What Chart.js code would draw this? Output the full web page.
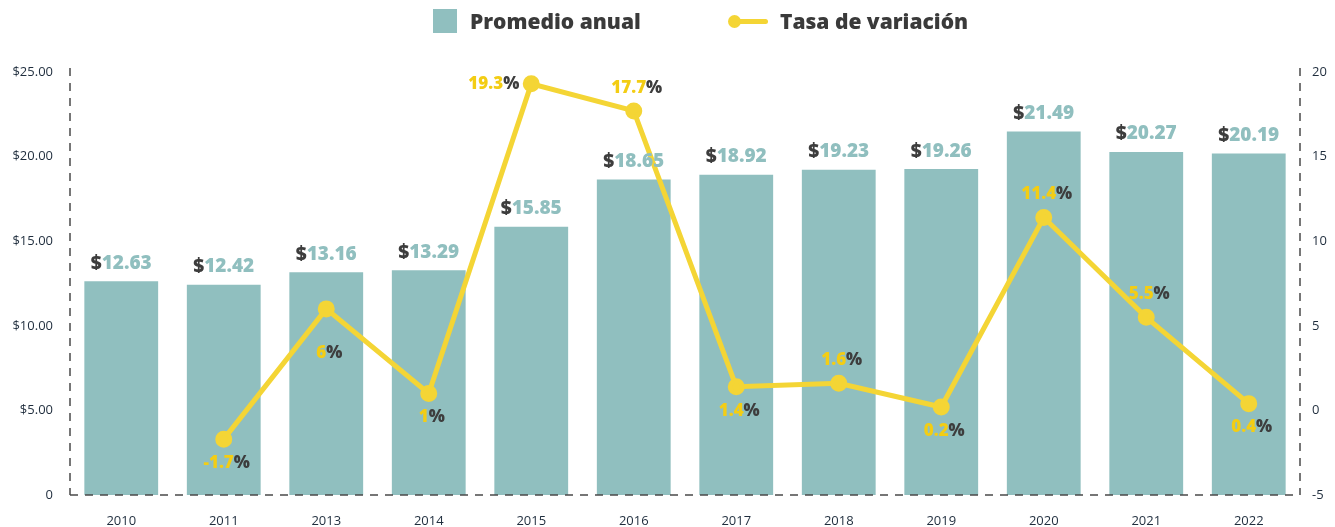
<!DOCTYPE html>
<html>
<head>
<meta charset="utf-8">
<script src="https://cdn.jsdelivr.net/npm/chart.js@4.4.1/dist/chart.umd.min.js"></script>
<style>
  html, body { margin: 0; padding: 0; background: #fff; }
  #wrap { position: relative; width: 1335px; height: 527px; }
  .lg { position: absolute; font-family: "Open Sans", sans-serif; font-weight: 800; font-size: 21px; color: #3a3a3a; line-height: 28px; top: 7px; }
  .swatch { position: absolute; left: 433px; top: 9px; width: 24px; height: 24px; background: #90bfbf; }
  .lineBar { position: absolute; left: 732px; top: 19px; width: 36px; height: 5px; background: #f4d535; border-radius: 3px; }
  .lineDot { position: absolute; left: 728px; top: 15px; width: 13px; height: 13px; border-radius: 7px; background: #f4d535; }
</style>
</head>
<body>
<div id="wrap">
  <div class="swatch"></div>
  <div class="lg" style="left:470px">Promedio anual</div>
  <div class="lineBar"></div>
  <div class="lineDot"></div>
  <div class="lg" style="left:780px">Tasa de variación</div>
  <canvas id="chart" width="1335" height="527"></canvas>
</div>
<script>
const years = ["2010", "2011", "2013", "2014", "2015", "2016", "2017", "2018", "2019", "2020", "2021", "2022"];
const promedio = [12.63, 12.42, 13.16, 13.29, 15.85, 18.65, 18.92, 19.23, 19.26, 21.49, 20.27, 20.19];
const variacion = [null, -1.7, 6, 1, 19.3, 17.7, 1.4, 1.6, 0.2, 11.4, 5.5, 0.4];
const variacionText = ["", "-1.7", "6", "1", "19.3", "17.7", "1.4", "1.6", "0.2", "11.4", "5.5", "0.4"];
const labelPos = [null, "below", "belowFar", "below", "left", "above", "below", "above", "below", "above", "above", "below"];

const TEAL = "#90bfbf";
const YELLOW = "#f4d535";
const YELLOW_TEXT = "#f3cd14";
const DARK = "#3d3d3d";
const TICK = "#1f2d3d";

function drawTwoTone(ctx, a, b, colA, colB, x, y, align) {
  const wa = ctx.measureText(a).width;
  const wb = ctx.measureText(b).width;
  let start = x - (wa + wb) / 2;
  if (align === "right") start = x - wa - wb;
  ctx.textAlign = "left";
  ctx.fillStyle = colA;
  ctx.fillText(a, start, y);
  ctx.fillStyle = colB;
  ctx.fillText(b, start + wa, y);
}

// dashed frame: left, right and bottom axis lines (drawn over the bars)
const dashedAxes = {
  id: "dashedAxes",
  afterDatasetsDraw(chart) {
    const { ctx, chartArea: a } = chart;
    ctx.save();
    ctx.strokeStyle = "#4a4a4a";
    ctx.lineWidth = 1.5;
    ctx.setLineDash([8, 7]);
    ctx.beginPath();
    ctx.moveTo(a.left, a.top - 4);
    ctx.lineTo(a.left, a.bottom);
    ctx.moveTo(a.right, a.top - 4);
    ctx.lineTo(a.right, a.bottom);
    ctx.moveTo(a.left, a.bottom);
    ctx.lineTo(a.right, a.bottom);
    ctx.stroke();
    ctx.restore();
  }
};

const labelsPlugin = {
  id: "valueLabels",
  afterDatasetsDraw(chart) {
    const ctx = chart.ctx;
    ctx.save();
    ctx.textBaseline = "middle";

    const barMeta = chart.getDatasetMeta(0);
    ctx.font = "800 19px 'Open Sans'";
    barMeta.data.forEach((bar, i) => {
      drawTwoTone(ctx, "$", promedio[i].toFixed(2), DARK, TEAL, bar.x, bar.y - 18);
    });

    const lineMeta = chart.getDatasetMeta(1);
    ctx.font = "800 17px 'Open Sans'";
    lineMeta.data.forEach((pt, i) => {
      if (variacion[i] === null) return;
      const pos = labelPos[i];
      if (pos === "left") {
        drawTwoTone(ctx, variacionText[i], "%", YELLOW_TEXT, DARK, pt.x - 12, pt.y, "right");
      } else {
        let dy = 24;
        if (pos === "above") dy = -23;
        if (pos === "belowFar") dy = 44;
        drawTwoTone(ctx, variacionText[i], "%", YELLOW_TEXT, DARK, pt.x + 3, pt.y + dy);
      }
    });
    ctx.restore();
  }
};

new Chart(document.getElementById("chart"), {
  type: "bar",
  data: {
    labels: years,
    datasets: [
      {
        type: "bar",
        label: "Promedio anual",
        data: promedio,
        backgroundColor: TEAL,
        barPercentage: 0.8,
        categoryPercentage: 0.9,
        yAxisID: "y",
        order: 2,
      },
      {
        type: "line",
        label: "Tasa de variación",
        data: variacion,
        borderColor: YELLOW,
        backgroundColor: YELLOW,
        borderWidth: 5,
        pointRadius: 6,
        pointHoverRadius: 6,
        tension: 0,
        yAxisID: "y1",
        order: 1,
      },
    ],
  },
  options: {
    responsive: false,
    animation: false,
    layout: { padding: { top: 72, left: 0, right: 0, bottom: 0 } },
    plugins: {
      legend: { display: false },
      tooltip: { enabled: false },
    },
    scales: {
      x: {
        grid: { display: false, drawTicks: false },
        border: { display: false },
        ticks: { color: TICK, font: { family: "Open Sans", size: 13 }, padding: 18 },
        afterFit(scale) { scale.height = 32; },
      },
      y: {
        position: "left",
        min: 0,
        max: 25,
        grid: { display: false, drawTicks: false },
        border: { display: false },
        ticks: {
          stepSize: 5,
          color: TICK,
          padding: 17,
          font: { family: "Open Sans", size: 13 },
          callback: (v) => (v === 0 ? "0" : "$" + v.toFixed(2)),
        },
        afterFit(scale) { scale.width = 70; },
      },
      y1: {
        position: "right",
        min: -5,
        max: 20,
        grid: { display: false, drawTicks: false },
        border: { display: false },
        ticks: {
          stepSize: 5,
          color: TICK,
          padding: 12,
          font: { family: "Open Sans", size: 13 },
        },
        afterFit(scale) { scale.width = 35; },
      },
    },
  },
  plugins: [dashedAxes, labelsPlugin],
});
</script>
</body>
</html>
